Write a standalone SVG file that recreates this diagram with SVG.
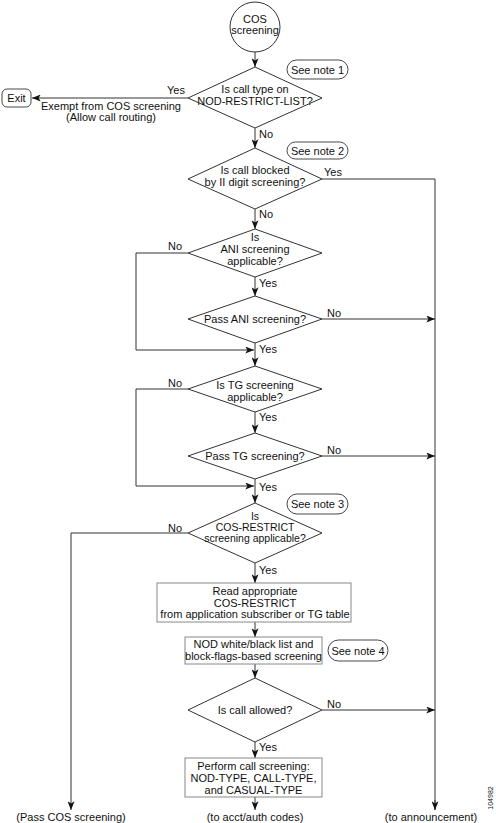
<svg xmlns="http://www.w3.org/2000/svg" width="496" height="823" viewBox="0 0 496 823">
<defs>
<marker id="ah" viewBox="0 0 10 8" refX="10" refY="4" markerWidth="9" markerHeight="7" markerUnits="userSpaceOnUse" orient="auto">
<path d="M0,0 L10,4 L0,8 L2.5,4 Z" fill="#111"/>
</marker>
<style>
text{font-family:"Liberation Sans",Arial,Helvetica,sans-serif;font-size:11px;fill:#111}
.m{text-anchor:middle}
.t{font-size:10.5px}
.dia{fill:#fff;stroke:#333;stroke-width:1}
.box{fill:#fff;stroke:#888;stroke-width:1}
.note{fill:#fff;stroke:#333;stroke-width:0.9}
.ln{fill:none;stroke:#333;stroke-width:1}
.ar{fill:none;stroke:#333;stroke-width:1;marker-end:url(#ah)}
.id{font-size:7px}
</style>
</defs>
<rect width="496" height="823" fill="#fff"/>

<g id="connectors">
<line class="ar" x1="255" y1="52" x2="255" y2="67"/>
<line class="ar" x1="188" y1="98" x2="32" y2="98"/>
<line class="ar" x1="255" y1="128" x2="255" y2="148"/>
<polyline class="ln" points="322,179 435,179 435,810"/>
<line class="ar" x1="435" y1="800" x2="435" y2="810"/>
<line class="ar" x1="255" y1="209" x2="255" y2="229"/>
<polyline class="ar" points="188,253 136,253 136,350 254,350"/>
<line class="ar" x1="255" y1="277" x2="255" y2="296"/>
<line class="ar" x1="322" y1="319" x2="435" y2="319"/>
<line class="ar" x1="255" y1="343" x2="255" y2="366"/>
<polyline class="ar" points="188,389 136,389 136,486 254,486"/>
<line class="ar" x1="255" y1="412" x2="255" y2="433"/>
<line class="ar" x1="322" y1="456" x2="435" y2="456"/>
<line class="ar" x1="255" y1="479" x2="255" y2="503"/>
<polyline class="ar" points="188,533 71,533 71,810"/>
<line class="ar" x1="255" y1="563" x2="255" y2="583"/>
<line class="ar" x1="255" y1="622" x2="255" y2="637"/>
<line class="ar" x1="255" y1="664" x2="255" y2="678"/>
<line class="ar" x1="322" y1="710" x2="435" y2="710"/>
<line class="ar" x1="255" y1="742" x2="255" y2="758"/>
<line class="ar" x1="255" y1="797" x2="255" y2="810"/>
<text x="176" y="94" class="m">Yes</text>
<text x="111" y="110" class="m">Exempt from COS screening</text>
<text x="111" y="121" class="m">(Allow call routing)</text>
<text x="259" y="138">No</text>
<text x="324" y="176">Yes</text>
<text x="259" y="218">No</text>
<text x="168" y="250">No</text>
<text x="259" y="287">Yes</text>
<text x="327" y="317">No</text>
<text x="259" y="353">Yes</text>
<text x="168" y="387">No</text>
<text x="259" y="421">Yes</text>
<text x="327" y="454">No</text>
<text x="259" y="491">Yes</text>
<text x="168" y="532">No</text>
<text x="259" y="574">Yes</text>
<text x="327" y="708">No</text>
<text x="259" y="751">Yes</text>
</g>

<g id="start">
<circle cx="255" cy="27" r="25" fill="#fff" stroke="#333" stroke-width="1"/>
<text x="255" y="23" class="m">COS</text>
<text x="255" y="34" class="m">screening</text>
</g>

<g id="exit">
<rect x="2" y="89" width="29" height="18" rx="5" class="note"/>
<text x="16.5" y="102" class="m">Exit</text>
</g>

<g id="d1">
<polygon class="dia" points="255,67 322,98 255,128 188,98"/>
<text x="255" y="93" class="m">Is call type on</text>
<text x="255" y="105" class="m">NOD-RESTRICT-LIST?</text>
</g>
<g id="note1">
<rect x="287" y="60" width="61" height="19" rx="9.5" class="note"/>
<text x="317.5" y="73.5" class="m">See note 1</text>
</g>

<g id="d2">
<polygon class="dia" points="255,148 322,179 255,209 188,179"/>
<text x="255" y="174" class="m">Is call blocked</text>
<text x="255" y="186" class="m">by II digit screening?</text>
</g>
<g id="note2">
<rect x="287" y="142" width="61" height="17" rx="8.5" class="note"/>
<text x="317.5" y="154.5" class="m">See note 2</text>
</g>

<g id="d3">
<polygon class="dia" points="255,229 322,253 255,277 188,253"/>
<text x="255" y="241" class="m">Is</text>
<text x="255" y="253" class="m">ANI screening</text>
<text x="255" y="265" class="m">applicable?</text>
</g>

<g id="d4">
<polygon class="dia" points="255,296 322,319 255,343 188,319"/>
<text x="255" y="323" class="m">Pass ANI screening?</text>
</g>

<g id="d5">
<polygon class="dia" points="255,366 322,389 255,412 188,389"/>
<text x="255" y="389" class="m">Is TG screening</text>
<text x="255" y="401" class="m">applicable?</text>
</g>

<g id="d6">
<polygon class="dia" points="255,433 322,456 255,479 188,456"/>
<text x="255" y="460" class="m">Pass TG screening?</text>
</g>

<g id="d7">
<polygon class="dia" points="255,503 322,533 255,563 188,533"/>
<text x="255" y="519.5" class="m t">Is</text>
<text x="255" y="530.5" class="m t">COS-RESTRICT</text>
<text x="255" y="541.5" class="m t">screening applicable?</text>
</g>
<g id="note3">
<rect x="287" y="494" width="61" height="20" rx="10" class="note"/>
<text x="317.5" y="508" class="m">See note 3</text>
</g>

<g id="b1">
<rect x="157" y="583" width="194" height="39" class="box"/>
<text x="255" y="595" class="m">Read appropriate</text>
<text x="255" y="607" class="m">COS-RESTRICT</text>
<text x="255" y="618" class="m">from application subscriber or TG table</text>
</g>

<g id="b2">
<rect x="185" y="637" width="137" height="27" class="box"/>
<text x="253.5" y="648" class="m">NOD white/black list and</text>
<text x="253.5" y="660" class="m">block-flags-based screening</text>
</g>
<g id="note4">
<rect x="328" y="640" width="60" height="21" rx="10.5" class="note"/>
<text x="358" y="654.5" class="m">See note 4</text>
</g>

<g id="d8">
<polygon class="dia" points="255,678 322,710 255,742 188,710"/>
<text x="255" y="714" class="m">Is call allowed?</text>
</g>

<g id="b3">
<rect x="185" y="758" width="137" height="39" class="box"/>
<text x="253.5" y="770" class="m">Perform call screening:</text>
<text x="253.5" y="782" class="m">NOD-TYPE, CALL-TYPE,</text>
<text x="253.5" y="794" class="m">and CASUAL-TYPE</text>
</g>

<g id="ends">
<text x="71" y="821" class="m">(Pass COS screening)</text>
<text x="255" y="821" class="m">(to acct/auth codes)</text>
<text x="431" y="821" class="m">(to announcement)</text>
<text x="493" y="798" class="m id" transform="rotate(-90 493 798)">104982</text>
</g>
</svg>
